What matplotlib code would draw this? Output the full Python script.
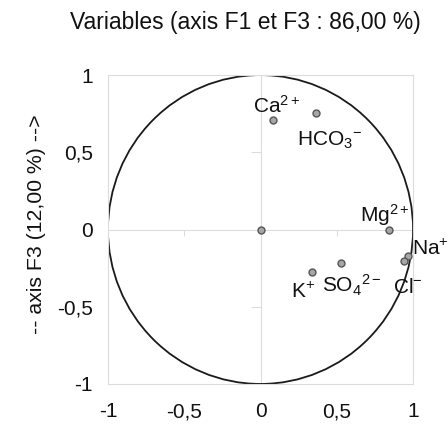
import matplotlib
matplotlib.use("Agg")
import matplotlib.pyplot as plt
from matplotlib.patches import Circle

plt.rcParams['font.family'] = ['Liberation Sans', 'DejaVu Sans']
plt.rcParams['mathtext.fontset'] = 'custom'
plt.rcParams['mathtext.rm'] = 'Liberation Sans'
plt.rcParams['mathtext.it'] = 'Liberation Sans'

# variable coordinates on F1 / F3
names = ['', 'Ca$^{2+}$', 'HCO$_3$$^{-}$', 'Mg$^{2+}$', 'Na$^{+}$', 'Cl$^{-}$', 'SO$_4$$^{2-}$', 'K$^{+}$']
f1 = [0.0, 0.08, 0.365, 0.84, 0.965, 0.94, 0.525, 0.34]
f3 = [0.0, 0.71, 0.755, -0.005, -0.17, -0.205, -0.22, -0.275]
# label offsets (points) and alignment
offs = [(0, 0), (3, 2), (10, -12), (-3, 2), (3, 5), (3, -12), (8, -7), (-7, -7)]
aligns = [('center', 'bottom'), ('center', 'bottom'), ('center', 'top'), ('center', 'bottom'),
          ('left', 'center'), ('center', 'top'), ('center', 'top'), ('center', 'top')]

ticks = [-1, -0.5, 0, 0.5, 1]
tick_labels = ['-1', '-0,5', '0', '0,5', '1']
inner = [-0.5, 0.5]

fig = plt.figure(figsize=(4.48, 4.29), dpi=100)
ax = fig.add_axes([0.241, 0.105, 0.681, 0.72])
ax.set_xlim(-1, 1)
ax.set_ylim(-1, 1)

for s in ax.spines.values():
    s.set_color('#dcdcdc')
    s.set_linewidth(0.8)
ax.axhline(0, color='#dcdcdc', lw=0.8, zorder=1)
ax.axvline(0, color='#dcdcdc', lw=0.8, zorder=1)
# small ticks on the centre axes
ax.plot([0] * len(inner), inner, ls='none', marker=0, ms=7, mec='#dcdcdc', mew=0.8, zorder=1)
ax.plot(inner, [0] * len(inner), ls='none', marker=3, ms=4, mec='#dcdcdc', mew=0.8, zorder=1)

ax.add_patch(Circle((0, 0), 1, fill=False, ec='#1a1a1a', lw=1.3, zorder=2))

ax.plot(f1, f3, ls='none', marker='o', ms=5, mfc='#a6a6a6', mec='#555555', mew=1, zorder=3)
for n, x, y, o, al in zip(names, f1, f3, offs, aligns):
    if n:
        ax.annotate(n, (x, y), xytext=o, textcoords='offset points',
                    ha=al[0], va=al[1], fontsize=15, color='#111111', zorder=4)

ax.set_xticks(ticks)
ax.set_xticklabels(tick_labels)
ax.set_yticks(ticks)
ax.set_yticklabels(tick_labels)
ax.tick_params(axis='both', length=0, labelsize=15, colors='#111111')
ax.tick_params(axis='x', pad=13)
ax.tick_params(axis='y', pad=11)

fig.text(245 / 448, 1 - 23 / 429, 'Variables (axis F1 et F3 : 86,00 %)',
         ha='center', va='center', fontsize=16.5, color='#111111')
fig.text(37 / 448, 1 - 224 / 429, '-- axis F3 (12,00 %) -->', rotation=90,
         ha='center', va='center', fontsize=15.3, color='#111111')

fig.savefig('out.png', dpi=100)
